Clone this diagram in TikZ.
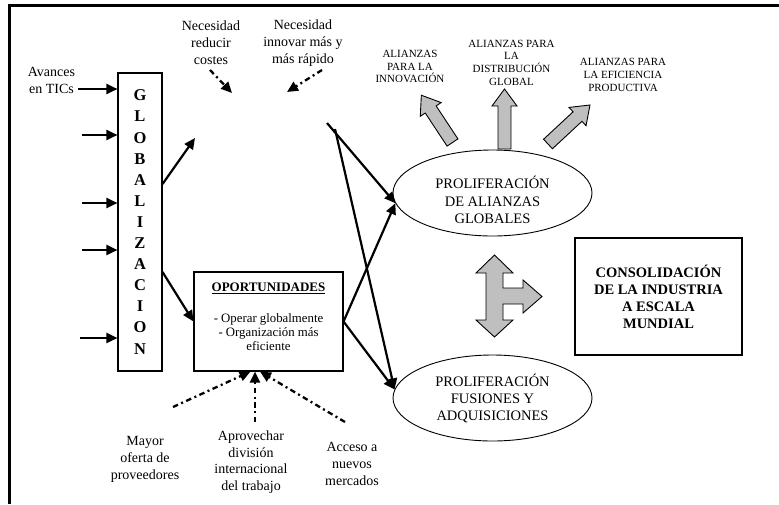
\documentclass[tikz,border=0pt]{standalone}
\usepackage{fontspec}
\setmainfont{Liberation Serif}
\usetikzlibrary{arrows.meta,shapes.geometric,calc}
\newcommand{\gblockarrow}[3]{%
  \draw[gblk,shift={#1},rotate=#2] (0,-6.5) -- ({#3-17},-6.5) -- ({#3-17},-12.5) -- (#3,0) -- ({#3-17},12.5) -- ({#3-17},6.5) -- (0,6.5) -- cycle;}
\begin{document}
\begin{tikzpicture}[x=1pt,y=-1pt,
  lbl/.style={align=center,font=\fontsize{14}{17}\selectfont,inner sep=0pt},
  smalllbl/.style={align=center,font=\fontsize{11}{12.6}\selectfont,inner sep=0pt},
  arr/.style={line width=2.2pt,-{Triangle[length=11pt,width=10pt]}},
  dda/.style={line width=2.3pt,dash pattern=on 5.5pt off 3.5pt on 2pt off 3.5pt,-{Triangle[length=11pt,width=10pt]}},
  ell/.style={draw,ellipse,line width=0.9pt,minimum width=199pt,minimum height=86pt,inner sep=0pt},
  gblk/.style={draw=black,fill=gray!50,line width=0.9pt,line join=miter},
  boxst/.style={draw,line width=1.1pt,inner sep=0pt}
]
\useasboundingbox (0,0) rectangle (779,504);
\draw[line width=3pt] (9,504) -- (9,5.5) -- (779,5.5);

% GLOBALIZACION box
\node[boxst,minimum width=44pt,minimum height=298pt,align=center,
      font=\bfseries\fontsize{16.5}{21.1}\selectfont] (glob) at (140,222)
  {G\\L\\O\\B\\A\\L\\I\\Z\\A\\C\\I\\O\\N};

% OPORTUNIDADES box
\node[boxst,minimum width=149pt,minimum height=99pt] (opp) at (268.5,321.5) {};
\node[font=\bfseries\fontsize{13}{15}\selectfont,inner sep=0pt] (oppt) at (268.5,288) {\underline{OPORTUNIDADES}};
\node[align=center,font=\fontsize{12.8}{14.2}\selectfont,inner sep=0pt] (oppb) at (268.5,332)
  {- Operar globalmente\\- Organización más\\eficiente};

% CONSOLIDACION box
\node[boxst,minimum width=167pt,minimum height=117pt,align=center,
      font=\bfseries\fontsize{14.5}{17}\selectfont] (cons) at (658.5,296.5)
  {CONSOLIDACIÓN\\DE LA INDUSTRIA\\A ESCALA\\MUNDIAL};

% Ellipses
\node[ell] (e1) at (492.5,193) {};
\node[align=center,font=\fontsize{14.5}{17.5}\selectfont,inner sep=0pt] (e1t) at (492.5,200)
  {PROLIFERACIÓN\\DE ALIANZAS\\GLOBALES};
\node[ell,align=center,font=\fontsize{14.5}{17}\selectfont] (e2) at (492.5,398)
  {PROLIFERACIÓN\\FUSIONES Y\\ADQUISICIONES};

% Labels
\node[lbl] (nec1) at (211,43) {Necesidad\\reducir\\costes};
\node[lbl] (nec2) at (303,43) {Necesidad\\innovar más y\\más rápido};
\node[lbl] (avan) at (51.5,80) {Avances\\en TICs};
\node[lbl] (mayor) at (145,459.5) {Mayor\\oferta de\\proveedores};
\node[lbl,font=\fontsize{14}{16.7}\selectfont] (aprov) at (251,462) {Aprovechar\\división\\internacional\\del trabajo};
\node[lbl] (acc) at (352,463.5) {Acceso a\\nuevos\\mercados};

\node[smalllbl] (al1) at (410,66.5) {ALIANZAS\\PARA LA\\INNOVACIÓN};
\node[smalllbl] (al2) at (511.5,62.7) {ALIANZAS PARA\\LA\\DISTRIBUCIÓN\\GLOBAL};
\node[smalllbl] (al3) at (623,75) {ALIANZAS PARA\\LA EFICIENCIA\\PRODUCTIVA};

% Inputs to GLOBALIZACION
\coordinate (in1) at (78,89);
\coordinate (in2) at (82,135);
\coordinate (in3) at (82,203);
\coordinate (in4) at (82,250);
\coordinate (in5) at (80,338);
\foreach \c in {in1,in2,in3,in4,in5}
  \draw[arr] (\c) -- (\c -| glob.west);

% Outputs from GLOBALIZACION
\coordinate (gup) at (195,138);
\draw[arr] ([yshift=38pt]glob.east) -- (gup);
\draw[arr] ([yshift=-50pt]glob.east) -- (opp.west);

% Crossing arrows
\coordinate (src1) at (327,123);
\coordinate (src2) at (335,129);
\draw[arr] (src1) -- (e1.186);
\draw[arr] (src2) -- (e2.175);
\draw[arr] (opp.east) -- (e1.186);
\draw[arr] (opp.east) -- (e2.175);

% Dash-dot arrows
\coordinate (c1s) at (210,70);
\coordinate (c1e) at (232,93);
\draw[dda] (c1s) -- (c1e);
\coordinate (c2s) at (322,70);
\coordinate (c2e) at (287,92);
\draw[dda] (c2s) -- (c2e);
\coordinate (b1) at (173,407);
\coordinate (b2) at (255,422);
\coordinate (b3) at (345,422);
\draw[dda] (b1) -- ([xshift=-18pt]opp.south);
\draw[dda] (b2) -- ([xshift=-13.5pt]opp.south);
\draw[dda] (b3) -- ([xshift=-8.5pt]opp.south);

% Gray block arrows
\gblockarrow{(452.5,142.5)}{123.4}{56.6}
\gblockarrow{(504.5,149)}{90}{60}
\gblockarrow{(548,144)}{42.9}{57.3}

% T-shaped gray arrow
\draw[gblk] (494.5,255) -- (513,273) -- (503,273) -- (503,288) -- (523,288) -- (523,280)
  -- (542,296.5) -- (523,313) -- (523,304) -- (503,304) -- (503,320) -- (513,320)
  -- (494.5,337) -- (476,320) -- (486,320) -- (486,273) -- (476,273) -- cycle;
\end{tikzpicture}
\end{document}
